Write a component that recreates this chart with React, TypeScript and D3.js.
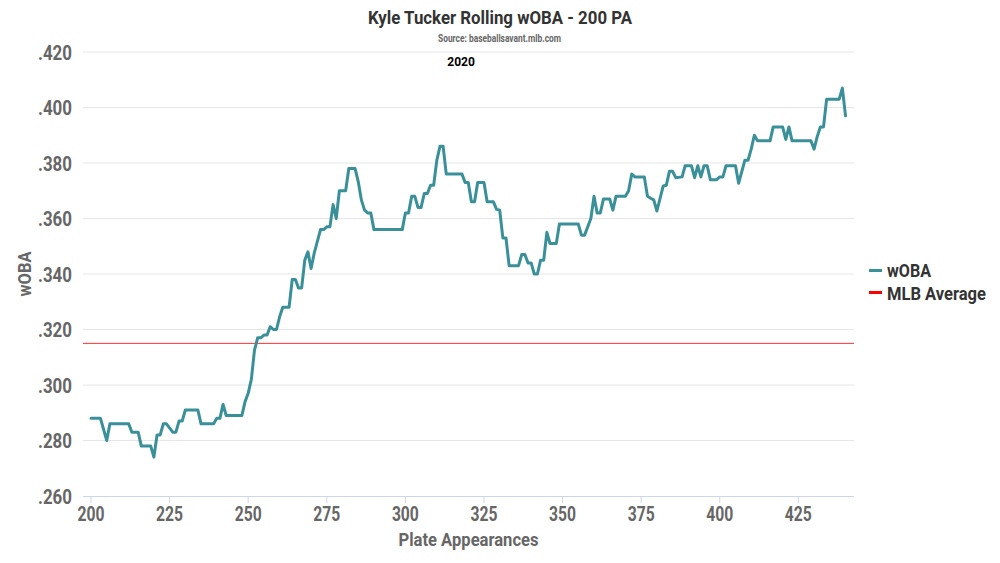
import React from "react";
import * as d3 from "d3";

const paValues: number[] = [
  200, 203, 205, 206, 212, 213, 215, 216, 219, 220, 221, 222, 223, 224, 226, 227, 228, 229, 230, 234,
  235, 239, 240, 241, 242, 243, 248, 249, 250, 251, 252, 253, 254, 255, 256, 257, 258, 259, 260, 261,
  263, 264, 265, 266, 267, 268, 269, 270, 271, 273, 274, 275, 276, 277, 278, 279, 281, 282, 284, 285,
  286, 287, 288, 289, 290, 299, 300, 301, 302, 303, 304, 305, 306, 307, 308, 309, 310, 311, 312, 313,
  318, 319, 320, 321, 322, 323, 325, 326, 328, 329, 330, 331, 332, 333, 336, 337, 338, 339, 340, 341,
  342, 343, 344, 345, 346, 348, 349, 355, 356, 357, 359, 360, 361, 362, 363, 365, 366, 367, 370, 371,
  372, 373, 376, 377, 378, 379, 380, 382, 383, 384, 385, 386, 388, 389, 391, 392, 393, 394, 395, 396,
  397, 399, 400, 401, 402, 405, 406, 408, 409, 410, 411, 412, 416, 417, 420, 421, 422, 423, 429, 430,
  431, 432, 433, 434, 438, 439, 440,
];

const wobaValues: number[] = [
  0.288, 0.288, 0.280, 0.286, 0.286, 0.283, 0.283, 0.278, 0.278, 0.274, 0.282, 0.282, 0.286, 0.286, 0.283, 0.283, 0.287, 0.287, 0.291, 0.291,
  0.286, 0.286, 0.288, 0.288, 0.293, 0.289, 0.289, 0.294, 0.297, 0.302, 0.3126, 0.317, 0.317, 0.318, 0.318, 0.321, 0.320, 0.320, 0.3246, 0.328,
  0.328, 0.338, 0.338, 0.335, 0.335, 0.345, 0.348, 0.342, 0.3475, 0.356, 0.356, 0.357, 0.357, 0.365, 0.360, 0.370, 0.370, 0.378, 0.378, 0.3733,
  0.3667, 0.363, 0.362, 0.362, 0.356, 0.356, 0.362, 0.362, 0.368, 0.368, 0.364, 0.364, 0.369, 0.369, 0.372, 0.372, 0.381, 0.386, 0.386, 0.376,
  0.376, 0.373, 0.373, 0.366, 0.366, 0.373, 0.373, 0.366, 0.366, 0.3633, 0.363, 0.353, 0.353, 0.343, 0.343, 0.347, 0.347, 0.344, 0.344, 0.340,
  0.340, 0.345, 0.345, 0.355, 0.351, 0.351, 0.358, 0.358, 0.354, 0.354, 0.360, 0.368, 0.362, 0.362, 0.367, 0.367, 0.363, 0.368, 0.368, 0.370,
  0.376, 0.375, 0.375, 0.368, 0.3673, 0.3667, 0.3627, 0.3717, 0.372, 0.377, 0.377, 0.3747, 0.375, 0.379, 0.379, 0.3747, 0.379, 0.375, 0.379, 0.379,
  0.374, 0.374, 0.375, 0.375, 0.379, 0.379, 0.3727, 0.381, 0.381, 0.385, 0.390, 0.388, 0.388, 0.393, 0.393, 0.3885, 0.393, 0.388, 0.388, 0.385,
  0.3895, 0.393, 0.393, 0.403, 0.403, 0.407, 0.397,
];

const mlbAverage = 0.315;
const xTicks: number[] = [200, 225, 250, 275, 300, 325, 350, 375, 400, 425];
const yTicks: number[] = [0.26, 0.28, 0.3, 0.32, 0.34, 0.36, 0.38, 0.4, 0.42];
const seasonLabel = "2020";
const seasonLabelPA = 317.7;
const titleText = "Kyle Tucker Rolling wOBA - 200 PA";
const subtitleText = "Source: baseballsavant.mlb.com";
const xAxisTitle = "Plate Appearances";
const yAxisTitle = "wOBA";
const legendNames: string[] = ["wOBA", "MLB Average"];

const W = 1000;
const H = 563;
const plot = { left: 83, right: 854, top: 52, bottom: 496 };
const X_DOMAIN: [number, number] = [197.45, 442.7];
const Y_DOMAIN: [number, number] = [0.26, 0.42];
const TEAL = "#3a9099";
const RED = "#ff0000";
const FONT = "Roboto, 'Noto Sans', sans-serif";

export default function App() {
  const x = d3.scaleLinear().domain(X_DOMAIN).range([plot.left, plot.right]);
  const y = d3.scaleLinear().domain(Y_DOMAIN).range([plot.bottom, plot.top]);
  const data = paValues.map((pa, i) => ({ pa, v: wobaValues[i] }));
  const line = d3
    .line<{ pa: number; v: number }>()
    .x((d) => x(d.pa))
    .y((d) => y(d.v));
  const fmt = (v: number) => d3.format(".3f")(v).replace(/^0/, "");

  return (
    <svg
      width={W}
      height={H}
      style={{ position: "absolute", left: 0, top: 0, background: "#fff" }}
      fontFamily={FONT}
    >
      <rect x={0} y={0} width={W} height={H} fill="#fff" />
      {/* title */}
      <text x={500} y={23.5} textAnchor="middle" fontSize={19} fontWeight={700} fill="#333"
        textLength={264} lengthAdjust="spacingAndGlyphs">{titleText}</text>
      <text x={499.5} y={41.5} textAnchor="middle" fontSize={10} fontWeight={700} fill="#666"
        textLength={123} lengthAdjust="spacingAndGlyphs">{subtitleText}</text>

      {/* grid */}
      {yTicks.filter((t) => t > Y_DOMAIN[0]).map((t) => (
        <line key={t} x1={plot.left} x2={plot.right} y1={y(t)} y2={y(t)} stroke="#e6e6e6" strokeWidth={1} />
      ))}

      {/* y labels */}
      {yTicks.map((t) => (
        <text key={t} x={72} y={y(t) + 7.8} textAnchor="end" fontSize={19.5} fontWeight={700} fill="#666"
          textLength={34} lengthAdjust="spacingAndGlyphs">
          {fmt(t)}
        </text>
      ))}
      <text transform={`translate(31,${(plot.top + plot.bottom) / 2}) rotate(-90)`} textAnchor="middle"
        fontSize={17.5} fontWeight={700} fill="#666" textLength={45} lengthAdjust="spacingAndGlyphs">{yAxisTitle}</text>

      {/* x axis */}
      <line x1={plot.left} x2={plot.right} y1={plot.bottom + 0.5} y2={plot.bottom + 0.5} stroke="#ccd6eb" strokeWidth={1} />
      {xTicks.map((t) => (
        <g key={t}>
          <line x1={x(t)} x2={x(t)} y1={plot.bottom} y2={plot.bottom + 7} stroke="#ccd6eb" strokeWidth={1} />
          <text x={x(t)} y={520.7} textAnchor="middle" fontSize={19.5} fontWeight={700} fill="#666"
            textLength={27} lengthAdjust="spacingAndGlyphs">{t}</text>
        </g>
      ))}
      <text x={(plot.left + plot.right) / 2} y={546} textAnchor="middle" fontSize={18} fontWeight={700} fill="#666"
        textLength={140} lengthAdjust="spacingAndGlyphs">{xAxisTitle}</text>

      {/* season label */}
      <text x={x(seasonLabelPA)} y={65.5} textAnchor="middle" fontSize={12} fontWeight={700} fill="#000">{seasonLabel}</text>

      {/* MLB average */}
      <line x1={plot.left} x2={plot.right} y1={y(mlbAverage)} y2={y(mlbAverage)} stroke={RED} strokeWidth={1} opacity={0.8} />

      {/* wOBA line */}
      <path d={line(data) || ""} fill="none" stroke={TEAL} strokeWidth={3} strokeLinejoin="round" strokeLinecap="round" />

      {/* legend */}
      <g>
        <line x1={869} x2={882} y1={270.5} y2={270.5} stroke={TEAL} strokeWidth={3} />
        <text x={887} y={276.5} fontSize={17.5} fontWeight={700} fill="#333" textLength={44} lengthAdjust="spacingAndGlyphs">{legendNames[0]}</text>
        <line x1={869} x2={882} y1={292.5} y2={292.5} stroke={RED} strokeWidth={3} />
        <text x={887} y={299.5} fontSize={17.5} fontWeight={700} fill="#333" textLength={99} lengthAdjust="spacingAndGlyphs">{legendNames[1]}</text>
      </g>
    </svg>
  );
}
